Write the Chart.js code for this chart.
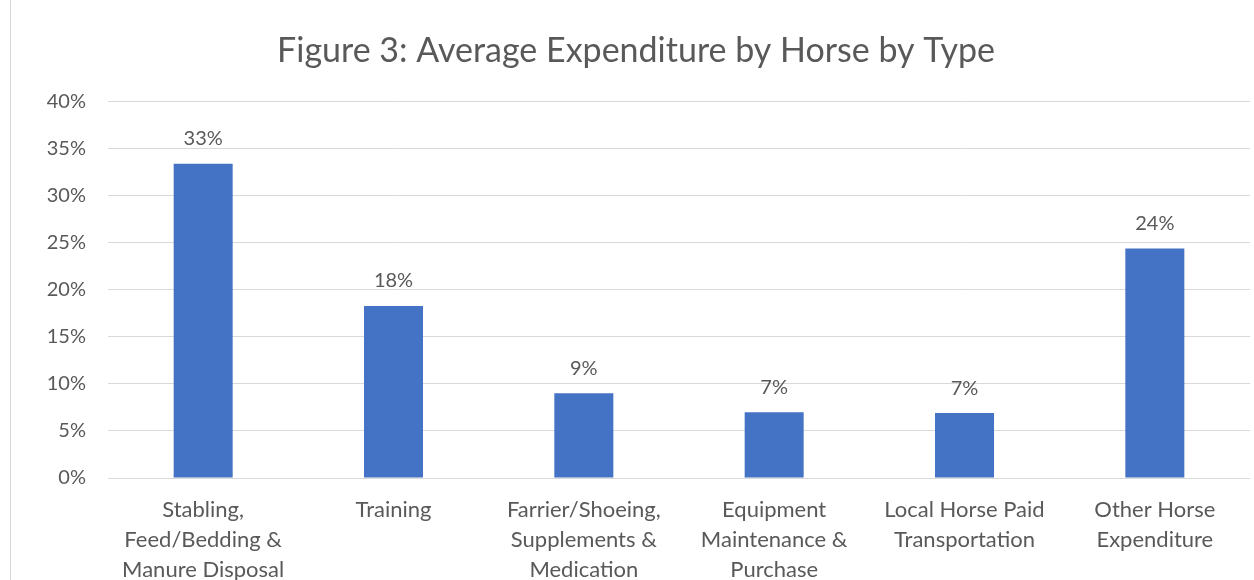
<!DOCTYPE html>
<html>
<head>
<meta charset="utf-8">
<title>Figure 3: Average Expenditure by Horse by Type</title>
<script src="https://cdn.jsdelivr.net/npm/chart.js@4"></script>
<style>
  html, body { margin: 0; padding: 0; background: #fff; }
  .chart-box { width: 1254px; height: 580px; position: relative; }
</style>
</head>
<body>
<div class="chart-box">
  <canvas id="expenditure-chart"></canvas>
</div>
<script>
// ---- data ----
const categories = [
  ['Stabling,', 'Feed/Bedding &', 'Manure Disposal'],
  ['Training'],
  ['Farrier/Shoeing,', 'Supplements &', 'Medication'],
  ['Equipment', 'Maintenance &', 'Purchase'],
  ['Local Horse Paid', 'Transportation'],
  ['Other Horse', 'Expenditure']
];
const shares = [33.4, 18.3, 9.0, 7.0, 6.9, 24.4];   // % of spend
const yTicks = [0, 5, 10, 15, 20, 25, 30, 35, 40];

const FONT = 'Lato, "Open Sans", sans-serif';
const GREY = '#595959';

// value labels above each bar
const barLabels = {
  id: 'barLabels',
  afterDatasetsDraw(chart) {
    const { ctx } = chart;
    const meta = chart.getDatasetMeta(0);
    ctx.save();
    ctx.font = `20px ${FONT}`;
    ctx.fillStyle = GREY;
    ctx.textAlign = 'center';
    ctx.textBaseline = 'middle';
    meta.data.forEach((bar, i) => {
      ctx.fillText(Math.round(shares[i]) + '%', bar.x, bar.y - 25);
    });
    ctx.restore();
  }
};

// thin frame line on the left edge
const leftEdge = {
  id: 'leftEdge',
  beforeDraw(chart) {
    const { ctx } = chart;
    ctx.save();
    ctx.strokeStyle = '#d9d9d9';
    ctx.lineWidth = 1;
    ctx.beginPath();
    ctx.moveTo(10.5, 0);
    ctx.lineTo(10.5, chart.height);
    ctx.stroke();
    ctx.restore();
  }
};

new Chart(document.getElementById('expenditure-chart'), {
  type: 'bar',
  data: {
    labels: categories,
    datasets: [{
      label: 'Share',
      data: shares,
      backgroundColor: '#4472c4',
      barPercentage: 0.31,
      categoryPercentage: 1
    }]
  },
  options: {
    responsive: true,
    maintainAspectRatio: false,
    animation: false,
    layout: { padding: { left: 22, right: 4, top: 0, bottom: 0 } },
    plugins: {
      legend: { display: false },
      tooltip: { enabled: false },
      title: {
        display: true,
        text: 'Figure 3: Average Expenditure by Horse by Type',
        color: GREY,
        font: { family: FONT, size: 34, weight: 'normal' },
        padding: { top: 31, bottom: 30 }
      }
    },
    scales: {
      x: {
        grid: { display: false },
        border: { display: false },
        ticks: {
          color: GREY,
          font: { family: FONT, size: 22, lineHeight: 1.36 },
          padding: 9,
          maxRotation: 0,
          autoSkip: false
        },
        afterFit(scale) { scale.height = 102; }
      },
      y: {
        min: 0,
        max: 40,
        afterBuildTicks(scale) { scale.ticks = yTicks.map(v => ({ value: v })); },
        grid: { color: '#d9d9d9', drawTicks: false },
        border: { display: false },
        ticks: {
          color: GREY,
          font: { family: FONT, size: 20 },
          padding: 22,
          callback: v => v + '%'
        },
        afterFit(scale) { scale.width = 86; }
      }
    }
  },
  plugins: [barLabels, leftEdge]
});
</script>
</body>
</html>
